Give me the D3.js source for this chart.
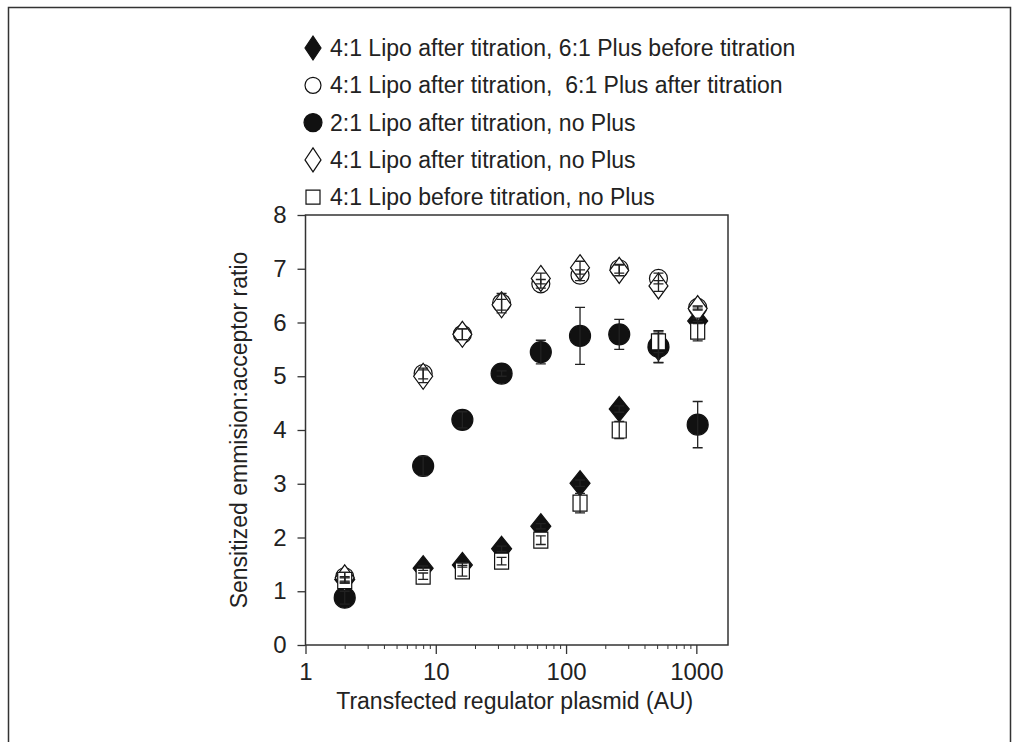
<!DOCTYPE html>
<html>
<head>
<meta charset="utf-8">
<script src="https://cdnjs.cloudflare.com/ajax/libs/d3/7.8.5/d3.min.js"></script>
<style>
  body { margin: 0; background: #fff; }
  svg text { font-family: "Liberation Sans", Arial, sans-serif; fill: #222; }
</style>
</head>
<body>
<div id="chart"></div>
<script>
// plasmid amounts (AU)
const doses = [2, 8, 16, 32, 64, 128, 256, 512, 1024];

// series values
const lipoPlusBefore = [1.22, 1.43, 1.49, 1.79, 2.21, 3.01, 4.39, 5.53, 6.03];
const lipoPlusBeforeErr = [0.05, 0.04, 0.04, 0.05, 0.05, 0.06, 0.06, 0.27, 0.05];
const lipoPlusAfter = [1.27, 5.05, 5.78, 6.36, 6.72, 6.88, 7.0, 6.82, 6.28];
const lipoPlusAfterErr = [0.08, 0.1, 0.1, 0.18, 0.08, 0.1, 0.08, 0.1, 0.03];
const lipo21 = [0.88, 3.33, 4.19, 5.05, 5.45, 5.75, 5.78, 5.55, 4.1];
const lipo21Err = [0.12, 0.18, 0.15, 0.05, 0.22, 0.53, 0.28, 0.3, 0.43];
const lipoAfter = [1.25, 5.0, 5.78, 6.33, 6.82, 7.02, 6.97, 6.68, 6.26];
const lipoAfterErr = [0.1, 0.12, 0.1, 0.1, 0.1, 0.12, 0.1, 0.1, 0.03];
const lipoBefore = [1.2, 1.28, 1.38, 1.56, 1.95, 2.64, 4.0, 5.64, 5.84];
const lipoBeforeErr = [0.05, 0.06, 0.1, 0.07, 0.08, 0.18, 0.16, 0.2, 0.18];

const xTicks = [1, 10, 100, 1000];
const yTicks = [0, 1, 2, 3, 4, 5, 6, 7, 8];

const labels = [
  "4:1 Lipo after titration, 6:1 Plus before titration",
  "4:1 Lipo after titration,  6:1 Plus after titration",
  "2:1 Lipo after titration, no Plus",
  "4:1 Lipo after titration, no Plus",
  "4:1 Lipo before titration, no Plus"
];

// marker shapes
const diamond = (w, h) => `M0,${-h}L${w},0L0,${h}L${-w},0Z`;
const circle = r => `M${r},0A${r},${r} 0 1,1 ${-r},0A${r},${r} 0 1,1 ${r},0Z`;
const square = (w, h) => `M${-w},${-h}H${w}V${h}H${-w}Z`;

const series = [
  { label: labels[0], vals: lipoPlusBefore, err: lipoPlusBeforeErr, path: diamond(10, 12.5), fill: "#111", legendPath: diamond(8, 12) },
  { label: labels[1], vals: lipoPlusAfter, err: lipoPlusAfterErr, path: circle(9), fill: "#fff", legendPath: circle(8) },
  { label: labels[2], vals: lipo21, err: lipo21Err, path: circle(10.5), fill: "#111", legendPath: circle(9) },
  { label: labels[3], vals: lipoAfter, err: lipoAfterErr, path: diamond(9.5, 13), fill: "#fff", legendPath: diamond(8, 12) },
  { label: labels[4], vals: lipoBefore, err: lipoBeforeErr, path: square(7, 8), fill: "#fff", legendPath: square(7, 7) }
];

const W = 1019, H = 742;
const FS = "23px";
const svg = d3.select("#chart").append("svg").attr("width", W).attr("height", H);

// outer frame
svg.append("path")
  .attr("d", "M8.5,742V7.5H1010.5V742")
  .attr("fill", "none").attr("stroke", "#333").attr("stroke-width", 1.5);

const x = d3.scaleLog().domain([1, 1750]).range([305.5, 728]);
const y = d3.scaleLinear().domain([0, 8]).range([645, 215]);

// plot box
svg.append("rect")
  .attr("x", x.range()[0]).attr("y", y(8))
  .attr("width", x.range()[1] - x.range()[0]).attr("height", y(0) - y(8))
  .attr("fill", "none").attr("stroke", "#333").attr("stroke-width", 1.5);

const yAxis = svg.append("g")
  .attr("transform", `translate(${x.range()[0]},0)`)
  .call(d3.axisLeft(y).tickValues(yTicks).tickSize(8).tickPadding(11).tickFormat(d3.format("d")));

const minor = [];
for (let p = 1; p <= 1000; p *= 10) for (let k = 2; k <= 9; k++) if (p * k < 1750) minor.push(p * k);

const xMinor = svg.append("g")
  .attr("transform", `translate(0,${y(0)})`)
  .call(d3.axisBottom(x).tickValues(minor).tickSize(4).tickFormat(""));

const xAxis = svg.append("g")
  .attr("transform", `translate(0,${y(0)})`)
  .call(d3.axisBottom(x).tickValues(xTicks).tickSize(9).tickPadding(9).tickFormat(d3.format("d")));

[yAxis, xAxis, xMinor].forEach(g => {
  g.select(".domain").remove();
  g.selectAll("line").attr("stroke", "#333").attr("stroke-width", 1.3);
  g.selectAll("text").style("font-size", "24px").attr("fill", "#222");
});
xMinor.selectAll("line").attr("stroke-width", 1);

svg.append("text")
  .attr("x", (x.range()[0] + x.range()[1]) / 2 - 2).attr("y", 709)
  .attr("text-anchor", "middle").style("font-size", FS)
  .text("Transfected regulator plasmid (AU)");

svg.append("text")
  .attr("transform", `translate(247,${(y(0) + y(8)) / 2}) rotate(-90)`)
  .attr("text-anchor", "middle").style("font-size", FS)
  .text("Sensitized emmision:acceptor ratio");

// markers
const plot = svg.append("g");
series.forEach(s => {
  plot.selectAll(null).data(s.vals.map((v, i) => ({ x: doses[i], v })))
    .join("path")
    .attr("transform", d => `translate(${x(d.x)},${y(d.v)})`)
    .attr("d", s.path)
    .attr("fill", s.fill).attr("stroke", "#111").attr("stroke-width", 1.2);
});

// error bars on top
series.forEach(s => {
  const g = plot.append("g").attr("stroke", "#222").attr("stroke-width", 1.3).attr("fill", "none");
  s.vals.forEach((v, i) => {
    const cx = x(doses[i]), lo = y(v - s.err[i]), hi = y(v + s.err[i]);
    g.append("path").attr("d", `M${cx},${lo}V${hi}M${cx - 5},${lo}H${cx + 5}M${cx - 5},${hi}H${cx + 5}`);
  });
});

// legend
const legend = svg.append("g");
series.forEach((s, i) => {
  const ly = 48 + i * 37.3;
  legend.append("path")
    .attr("transform", `translate(313,${ly})`)
    .attr("d", s.legendPath)
    .attr("fill", s.fill).attr("stroke", "#111").attr("stroke-width", 1.2);
  legend.append("text")
    .attr("x", 330).attr("y", ly + 8)
    .style("font-size", FS).style("white-space", "pre")
    .text(s.label);
});
</script>
</body>
</html>
